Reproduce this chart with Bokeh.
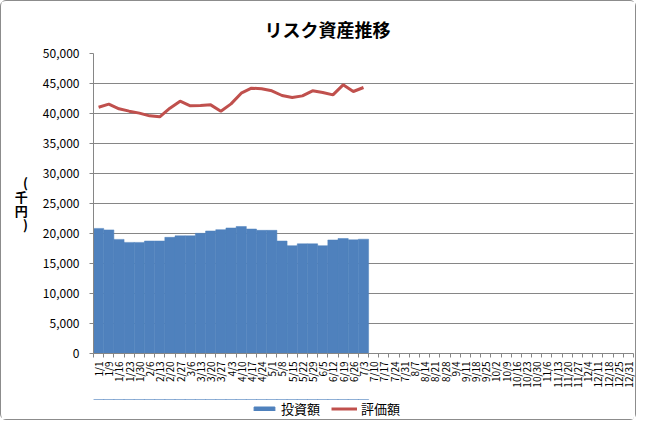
import math
from bokeh.plotting import figure
from bokeh.layouts import column
from bokeh.models import (Range1d, FixedTicker, NumeralTickFormatter, Legend, LegendItem,
                          ColumnDataSource)
from bokeh.embed import file_html
from bokeh.resources import INLINE

dates = ["1/1", "1/9", "1/16", "1/23", "1/30", "2/6", "2/13", "2/20", "2/27",
         "3/6", "3/13", "3/20", "3/27", "4/3", "4/10", "4/17", "4/24",
         "5/1", "5/8", "5/15", "5/22", "5/29", "6/5", "6/12", "6/19", "6/26",
         "7/3", "7/10", "7/17", "7/24", "7/31", "8/7", "8/14", "8/21", "8/28",
         "9/4", "9/11", "9/18", "9/25", "10/2", "10/9", "10/16", "10/23", "10/30",
         "11/6", "11/13", "11/20", "11/27", "12/4", "12/11", "12/18", "12/25", "12/31"]

invest = [20850, 20600, 19020, 18520, 18520, 18750, 18750, 19360, 19610, 19610,
          20030, 20420, 20640, 20920, 21170, 20750, 20530, 20530, 18750, 17970,
          18280, 18280, 17970, 18920, 19170, 18940, 19050]

valuation = [41050, 41560, 40780, 40390, 40060, 39610, 39440, 40890, 42060, 41280,
             41330, 41440, 40390, 41600, 43390, 44220, 44110, 43780, 43000, 42670,
             42940, 43780, 43500, 43110, 44780, 43670, 44330]

y_ticks = list(range(0, 50001, 5000))

JP = "Noto Sans CJK JP"
GRID = "#868686"
BLUE = "#4F81BD"
RED = "#C0504D"

n = len(dates)
centers = [i + 0.5 for i in range(n)]
src = ColumnDataSource(dict(x=centers[:len(invest)], inv=invest, val=valuation))

p = figure(width=634, height=398, output_backend="svg", toolbar_location=None,
           x_range=Range1d(0, n), y_range=Range1d(0, 50000),
           min_border_left=92, min_border_right=2, min_border_top=52, min_border_bottom=46,
           title="リスク資産推移")
p.outline_line_color = None
p.background_fill_color = "white"
p.border_fill_color = "white"

p.title.text_font = JP
p.title.text_font_size = "18px"
p.title.text_font_style = "bold"
p.title.align = "left"
p.title.offset = 171
p.title.vertical_align = "middle"
p.title.standoff = 21
p.title.text_color = "#000000"

p.vbar(x="x", top="inv", width=1.0, source=src,
       fill_color=BLUE, line_color=BLUE, line_width=0.5)
p.line(x="x", y="val", source=src, line_color=RED, line_width=3)

# x axis
p.xaxis.ticker = FixedTicker(ticks=centers, minor_ticks=list(range(n + 1)))
p.xaxis.major_label_overrides = {c: d for c, d in zip(centers, dates)}
p.xaxis.major_label_orientation = math.pi / 2
p.xaxis.major_tick_out = 0
p.xaxis.major_tick_in = 0
p.xaxis.minor_tick_out = 4
p.xaxis.minor_tick_in = 0
p.xaxis.minor_tick_line_color = GRID
p.xaxis.axis_line_color = GRID
p.xaxis.major_label_standoff = 4
p.xaxis.major_label_text_font = JP
p.xaxis.major_label_text_font_size = "10px"
p.xaxis.major_label_text_color = "#000000"

# y axis
p.yaxis.ticker = FixedTicker(ticks=y_ticks, minor_ticks=[])
p.yaxis.formatter = NumeralTickFormatter(format="0,0")
p.yaxis.major_tick_out = 4
p.yaxis.major_tick_in = 0
p.yaxis.major_tick_line_color = GRID
p.yaxis.axis_line_color = GRID
p.yaxis.major_label_standoff = 10
p.yaxis.major_label_text_font = JP
p.yaxis.major_label_text_font_size = "12px"
p.yaxis.major_label_text_color = "#000000"
p.yaxis.axis_label = "(\n千\n円\n)"
p.yaxis.axis_label_orientation = "horizontal"
p.yaxis.axis_label_text_font = JP
p.yaxis.axis_label_text_font_size = "13px"
p.yaxis.axis_label_text_font_style = "bold"
p.yaxis.axis_label_text_line_height = 0.75
p.yaxis.axis_label_text_color = "#000000"
p.yaxis.axis_label_standoff = 12

p.xgrid.visible = False
p.ygrid.grid_line_color = GRID
p.ygrid.grid_line_width = 1

# legend strip below the chart (its glyphs reuse the same data, kept out of view)
lg = figure(width=634, height=20, output_backend="svg", toolbar_location=None,
            x_range=Range1d(0, n), y_range=Range1d(-2, -1),
            x_axis_type=None, y_axis_type=None,
            min_border_left=0, min_border_right=0, min_border_top=0, min_border_bottom=0)
lg.outline_line_color = None
lg.xgrid.visible = False
lg.ygrid.visible = False
lg.border_fill_color = "white"
lg.background_fill_color = "white"
kb = lg.vbar(x="x", top="inv", width=1.0, source=src, fill_color=BLUE, line_color=BLUE)
kl = lg.line(x="x", y="val", source=src, line_color=RED, line_width=3)
legend = Legend(items=[LegendItem(label="投資額", renderers=[kb]),
                       LegendItem(label="評価額", renderers=[kl])],
                orientation="horizontal", location=(158, 1),
                glyph_width=26, glyph_height=5, label_height=14, label_standoff=4,
                spacing=11, padding=2, margin=0, border_line_color=None,
                background_fill_alpha=0,
                label_text_font=JP, label_text_font_size="13px", label_text_color="#000000")
lg.add_layout(legend, "center")

layout = column(p, lg, spacing=0,
                styles={"border": "1px solid #8c8c8c", "border-radius": "6px",
                        "background-color": "white"})

open("out.html", "w").write(file_html(layout, INLINE))
